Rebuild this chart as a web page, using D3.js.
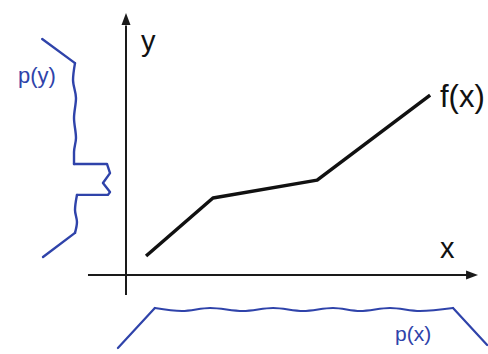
<!DOCTYPE html>
<html>
<head>
<meta charset="utf-8">
<script src="https://cdn.jsdelivr.net/npm/d3@7"></script>
<style>
  html, body { margin: 0; padding: 0; background: #fff; }
  svg { display: block; }
  text { font-family: "Liberation Sans", Arial, sans-serif; }
</style>
</head>
<body>
<script>
// ---- data ----
// f(x): piecewise linear mapping
const fX = [5.7, 24.7, 54.3, 86.4];
const fY = [7.3, 29.6, 36.5, 69.2];

// p(x): density of x (drawn below the x axis)
const pxX       = [-2.3, 8.2, 15.9, 23.9, 33.2, 41.8, 50.3, 58.8, 66.5, 75.0, 83.5, 92.9, 102.6];
const pxDensity = [0.16, 0.96, 0.90, 0.96, 0.90, 0.96, 0.90, 0.96, 0.90, 0.96, 0.90, 0.96, 0.22];

// p(y): density of y (drawn left of the y axis)
const pyY       = [90.8, 81.5, 75.0, 68.1, 60.4, 52.7, 47.3, 42.7, 42.7, 39.2, 35.4, 31.9, 30.8, 30.8, 25.0, 20.4, 16.2, 6.9];
const pyDensity = [0.10, 0.50, 0.476, 0.512, 0.488, 0.512, 0.488, 0.488, 0.89, 0.927, 0.841, 0.927, 0.902, 0.524, 0.50, 0.524, 0.50, 0.11];

const labels = { x: "x", y: "y", f: "f(x)", px: "p(x)", py: "p(y)" };

// ---- drawing ----
const W = 488, H = 354;
const svg = d3.select("body").append("svg").attr("width", W).attr("height", H);

const x = d3.scaleLinear().domain([0, 100]).range([126, 478]);
const y = d3.scaleLinear().domain([0, 100]).range([275, 15]);
const pxScale = d3.scaleLinear().domain([0, 1]).range([356, 306]);
const pyScale = d3.scaleLinear().domain([0, 1]).range([34, 116]);

const axisColor = "#1a1a1a";
const blue = "#2f43aa";

// axes
svg.append("line")
  .attr("x1", x(-10.8)).attr("x2", x(97)).attr("y1", y(0)).attr("y2", y(0))
  .attr("stroke", axisColor).attr("stroke-width", 2);
svg.append("path")
  .attr("d", `M${x(100)},${y(0)} L${x(96.6)},${y(0) - 4.5} L${x(96.6)},${y(0) + 4.5} Z`)
  .attr("fill", axisColor);

svg.append("line")
  .attr("x1", x(0)).attr("x2", x(0)).attr("y1", y(-7.7)).attr("y2", y(96))
  .attr("stroke", axisColor).attr("stroke-width", 2);
svg.append("path")
  .attr("d", `M${x(0)},${y(100.8)} L${x(0) - 4.5},${y(96.2)} L${x(0) + 4.5},${y(96.2)} Z`)
  .attr("fill", axisColor);

// f(x)
const fLine = d3.line().x(d => x(d[0])).y(d => y(d[1]));
svg.append("path")
  .attr("d", fLine(d3.zip(fX, fY)))
  .attr("fill", "none").attr("stroke", "#111").attr("stroke-width", 3.5)
  .attr("stroke-linejoin", "round");

// p(x)
const pxPts = d3.zip(pxX, pxDensity);
const pxLin = d3.line().x(d => x(d[0])).y(d => pxScale(d[1]));
const pxSmooth = d3.line().x(d => x(d[0])).y(d => pxScale(d[1])).curve(d3.curveMonotoneX);
const n = pxPts.length;
[pxLin(pxPts.slice(0, 2)), pxSmooth(pxPts.slice(1, n - 1)), pxLin(pxPts.slice(n - 2))].forEach(d => {
  svg.append("path").attr("d", d)
    .attr("fill", "none").attr("stroke", blue).attr("stroke-width", 2.2)
    .attr("stroke-linejoin", "round").attr("stroke-linecap", "round");
});

// p(y)
const pyPts = d3.zip(pyY, pyDensity);
const pyLin = d3.line().x(d => pyScale(d[1])).y(d => y(d[0]));
const pySmooth = d3.line().x(d => pyScale(d[1])).y(d => y(d[0])).curve(d3.curveMonotoneY);
const pySegs = [
  [pyLin, pyPts.slice(0, 2)],
  [pySmooth, pyPts.slice(1, 8)],
  [pyLin, pyPts.slice(7, 14)],
  [pySmooth, pyPts.slice(13, 17)],
  [pyLin, pyPts.slice(16)]
];
pySegs.forEach(([gen, pts]) => {
  svg.append("path").attr("d", gen(pts))
    .attr("fill", "none").attr("stroke", blue).attr("stroke-width", 2.4)
    .attr("stroke-linejoin", "round").attr("stroke-linecap", "round");
});

// labels
svg.append("text").attr("x", 141).attr("y", 51).attr("font-size", 29).attr("fill", "#111").text(labels.y);
svg.append("text").attr("x", 440).attr("y", 258).attr("font-size", 29).attr("fill", "#111").text(labels.x);
svg.append("text").attr("x", 440).attr("y", 107).attr("font-size", 31).attr("fill", "#111").text(labels.f);
svg.append("text").attr("x", 18).attr("y", 83).attr("font-size", 22).attr("fill", blue).text(labels.py);
svg.append("text").attr("x", 395).attr("y", 341).attr("font-size", 21).attr("fill", blue).text(labels.px);
</script>
</body>
</html>
